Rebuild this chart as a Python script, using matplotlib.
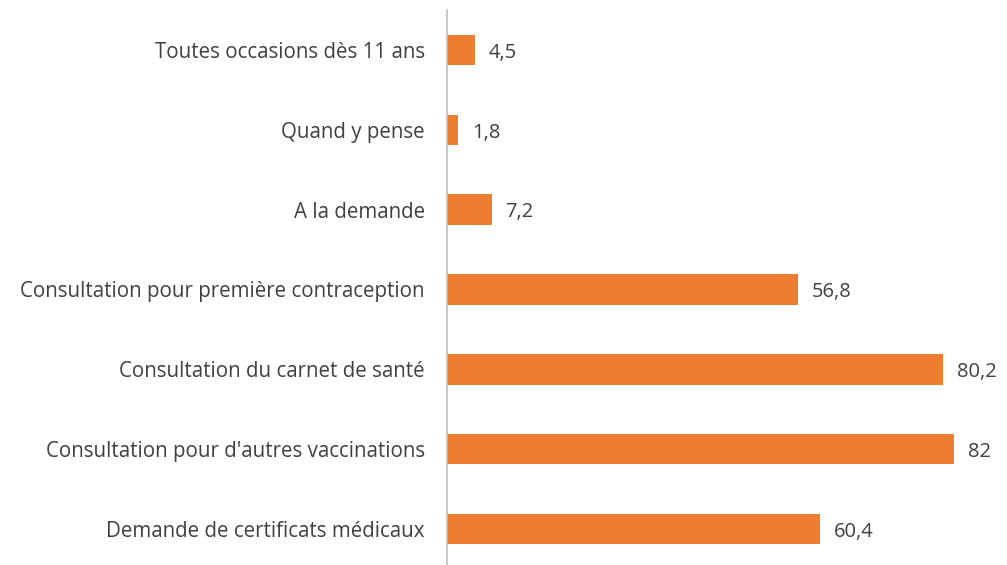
import matplotlib.pyplot as plt

# donnees
categories = [
    "Demande de certificats médicaux",
    "Consultation pour d'autres vaccinations",
    "Consultation du carnet de santé",
    "Consultation pour première contraception",
    "A la demande",
    "Quand y pense",
    "Toutes occasions dès 11 ans",
]
values = [60.4, 82, 80.2, 56.8, 7.2, 1.8, 4.5]
value_labels = ["60,4", "82", "80,2", "56,8", "7,2", "1,8", "4,5"]

plt.rcParams['font.family'] = ['Open Sans', 'DejaVu Sans']

fig = plt.figure(figsize=(10.07, 5.65), dpi=100)
ax = fig.add_axes([447 / 1007, 0, 560 / 1007, 555 / 565])

y = range(len(categories))
ax.barh(y, values, height=0.38, color="#ED7D31")

for i, (v, lab) in enumerate(zip(values, value_labels)):
    ax.annotate(lab, (v, i), xytext=(10, -2), textcoords="offset points",
                va="center", ha="left", fontsize=14.5, color="#404040")

ax.set_yticks(list(y))
ax.set_yticklabels(categories, fontsize=14.8, color="#404040")
ax.tick_params(axis="y", length=0, pad=16)
ax.set_xticks([])
ax.set_xlim(0, 90.6)
ax.set_ylim(-0.45, 6.5)

for s in ["top", "right", "bottom"]:
    ax.spines[s].set_visible(False)
ax.spines["left"].set_color("#BFBFBF")
ax.spines["left"].set_linewidth(1.2)

fig.savefig("out.png", dpi=100)
